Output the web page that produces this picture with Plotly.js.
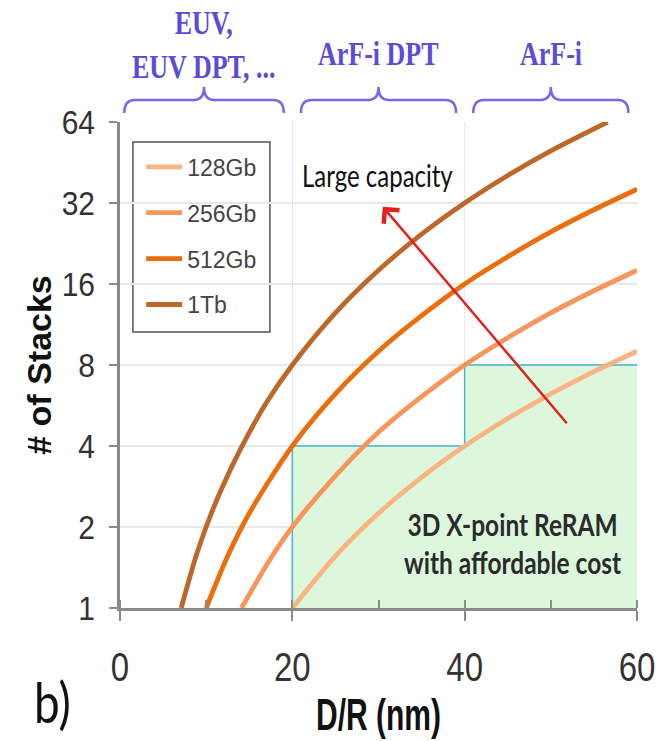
<!DOCTYPE html>
<html><head><meta charset="utf-8">
<script src="https://cdn.plot.ly/plotly-3.0.1.min.js"></script>
<style>html,body{margin:0;padding:0;background:#fff}#chart{width:671px;height:741px}</style>
</head><body><div id="chart"></div>
<script>
// ---- data ----
const seriesNames = ['128Gb', '256Gb', '512Gb', '1Tb'];
const x128 = [20, 25, 30, 35, 40, 45, 50, 55, 60];
const y128 = [1, 1.56, 2.25, 3.06, 4, 5.06, 6.25, 7.56, 9];
const x256 = [14.1, 17.5, 20, 25, 30, 35, 40, 45, 50, 55, 60];
const y256 = [1, 1.53, 2, 3.1, 4.5, 6.1, 8, 10.1, 12.5, 15.1, 18];
const x512 = [10, 12.5, 15, 20, 25, 30, 35, 40, 45, 50, 55, 60];
const y512 = [1, 1.56, 2.25, 4, 6.25, 9, 12.2, 16, 20.2, 25, 30.2, 36];
const x1T = [7.1, 9, 11, 14, 17, 20, 25, 30, 35, 40, 45, 50, 56.6];
const y1T = [1, 1.62, 2.42, 3.9, 5.8, 8, 12.5, 18, 24.5, 32, 40.5, 50, 64];
const seriesColors = ['#F9B581', '#F7955B', '#EB6D0C', '#BD6828'];

const yTickVals = [1, 2, 4, 8, 16, 32, 64];
const yTickText = ['1', '2', '4', '8', '16', '32', '64'];
const xTickVals = [0, 20, 40, 60];
const xTickText = ['0', '20', '40', '60'];

const regionX = [20, 20, 40, 40, 60, 60];
const regionY = [1, 4, 4, 8, 8, 1];
const boundaryX = [20, 20, 40, 40, 60];
const boundaryY = [1, 4, 4, 8, 8];

const techLabels = ['EUV,<br>EUV DPT, ...', 'ArF-i DPT', 'ArF-i'];
const techStart = [0.5, 21, 41];
const techEnd = [19, 39, 59];

const arrowFrom = [52, 4.8];
const arrowTo = [30.5, 31];

// ---- build ----
const xs = [x128, x256, x512, x1T];
const ys = [y128, y256, y512, y1T];

const traces = [];
traces.push({
  x: regionX, y: regionY, type: 'scatter', mode: 'lines', fill: 'toself',
  fillcolor: '#DDF7DD', line: {width: 0, color: 'rgba(0,0,0,0)'},
  showlegend: false, hoverinfo: 'skip'
});
traces.push({
  x: boundaryX, y: boundaryY, type: 'scatter', mode: 'lines',
  line: {width: 1.5, color: '#45B5CC'}, showlegend: false, hoverinfo: 'skip'
});
seriesNames.forEach((n, i) => {
  traces.push({
    x: xs[i], y: ys[i], name: n, type: 'scatter', mode: 'lines',
    line: {color: seriesColors[i], width: 4.8, shape: 'spline', smoothing: 0.8},
    legendgroup: 'g' + i
  });
});

const shapes = [];
shapes.push({
  type: 'rect', xref: 'paper', yref: 'paper', x0: 0.025, x1: 0.29, y0: 0.568, y1: 0.959,
  line: {color: '#555', width: 1.5}, fillcolor: '#fff', layer: 'between'
});
const yEnd = 1.0185, yLine = 1.0453, yCusp = 1.072, r = 1.2;
techStart.forEach((a, i) => {
  const b = techEnd[i], m = (a + b) / 2;
  shapes.push({
    type: 'path', xref: 'x', yref: 'paper',
    path: `M ${a},${yEnd} Q ${a},${yLine} ${a + r},${yLine} L ${m - r},${yLine} Q ${m},${yLine} ${m},${yCusp} Q ${m},${yLine} ${m + r},${yLine} L ${b - r},${yLine} Q ${b},${yLine} ${b},${yEnd}`,
    line: {color: '#7468E6', width: 2.5}
  });
});

const annotations = [];
const stretch = [];
const serif = {family: 'Liberation Serif', size: 26, color: '#5A4CD8', weight: 'bold'};
techLabels.forEach((t, i) => {
  const m = (techStart[i] + techEnd[i]) / 2;
  annotations.push({
    x: m, xref: 'x', y: i === 0 ? 1.157 : 1.140, yref: 'paper', text: t,
    showarrow: false, font: serif, xanchor: 'center', yanchor: 'middle'
  });
  stretch.push(1.3);
});
annotations.push({
  x: arrowTo[0], y: Math.log10(arrowTo[1]), xref: 'x', yref: 'y',
  ax: arrowFrom[0], ay: Math.log10(arrowFrom[1]), axref: 'x', ayref: 'y',
  text: '', showarrow: true, arrowhead: 4, arrowsize: 1.6, arrowwidth: 2.5, arrowcolor: '#E0231F'
});
stretch.push(1);
annotations.push({
  x: 0.499, y: 0.889, xref: 'paper', yref: 'paper', text: 'Large capacity', showarrow: false,
  font: {family: 'Lato, Open Sans, sans-serif', size: 24, color: '#111'}, xanchor: 'center', yanchor: 'middle'
});
stretch.push(1.25);
annotations.push({
  x: 0.760, y: 0.132, xref: 'paper', yref: 'paper', text: '<b>3D X-point ReRAM<br>with affordable cost</b>', showarrow: false,
  font: {family: 'Lato, Open Sans, sans-serif', size: 24.5, color: '#2b2b2b'}, xanchor: 'center', yanchor: 'middle'
});
stretch.push(1.22);
annotations.push({
  x: -0.13, y: -0.195, xref: 'paper', yref: 'paper', text: 'b)', showarrow: false,
  font: {family: 'Lato, Open Sans, sans-serif', size: 46, color: '#111'}, xanchor: 'center', yanchor: 'middle'
});
stretch.push(1.2);

const layout = {
  width: 671, height: 741,
  margin: {l: 120, r: 34, t: 122, b: 133},
  paper_bgcolor: '#fff', plot_bgcolor: '#fff',
  showlegend: true,
  legend: {
    x: 0.041, y: 0.952, xanchor: 'left', yanchor: 'top', bgcolor: 'rgba(0,0,0,0)', borderwidth: 0,
    font: {family: 'Liberation Sans, Arial, sans-serif', size: 23, color: '#444'},
    tracegroupgap: 13, itemwidth: 36
  },
  xaxis: {
    range: [0, 60], tickvals: xTickVals, ticktext: xTickText,
    showline: true, linecolor: '#8a8a8a', linewidth: 3,
    ticks: 'outside', ticklen: 10, tickwidth: 2, tickcolor: '#8a8a8a',
    minor: {dtick: 10, ticks: 'inside', ticklen: 8, tickwidth: 2, tickcolor: '#8a8a8a', showgrid: false},
    showgrid: true, gridcolor: '#e8e8e8', gridwidth: 1.5, zeroline: false,
    tickfont: {family: 'Liberation Sans, Arial, sans-serif', size: 33, color: '#333'},
    ticklabelstandoff: 18,
    title: {text: '<b>D/R (nm)</b>', font: {family: 'Liberation Sans, Arial, sans-serif', size: 30, color: '#111'}, standoff: 20}
  },
  yaxis: {
    type: 'log', range: [0, Math.log10(64)], tickvals: yTickVals, ticktext: yTickText,
    showline: true, linecolor: '#8a8a8a', linewidth: 3,
    ticks: 'outside', ticklen: 8, tickwidth: 2, tickcolor: '#8a8a8a',
    showgrid: true, gridcolor: '#e8e8e8', gridwidth: 1.5, zeroline: false,
    tickfont: {family: 'Liberation Sans, Arial, sans-serif', size: 30, color: '#333'},
    ticklabelstandoff: 8,
    title: {text: '<b># of Stacks</b>', font: {family: 'Liberation Sans, Arial, sans-serif', size: 34, color: '#111'}, standoff: 0}
  },
  shapes: shapes,
  annotations: annotations
};

function stretchEl(el, sx, sy) {
  const bb = el.getBBox();
  const cx = bb.x + bb.width / 2, cy = bb.y + bb.height / 2;
  const prev = el.getAttribute('transform') || '';
  el.setAttribute('transform', prev + ` translate(${cx},${cy}) scale(${sx},${sy}) translate(${-cx},${-cy})`);
}

Plotly.newPlot('chart', traces, layout, {displayModeBar: false, staticPlot: true}).then(gd => {
  gd.querySelectorAll('.xtick text').forEach(el => stretchEl(el, 1, 1.25));
  gd.querySelectorAll('.ytick text').forEach(el => stretchEl(el, 1, 1.12));
  gd.querySelectorAll('.g-xtitle text').forEach(el => stretchEl(el, 1, 1.45));
  gd.querySelectorAll('g.annotation').forEach(g => {
    const idx = +g.getAttribute('data-index');
    const s = stretch[idx];
    const t = g.querySelector('text.annotation-text');
    if (t && s && s !== 1) stretchEl(t, 1, s);
  });
});
</script>
</body></html>
